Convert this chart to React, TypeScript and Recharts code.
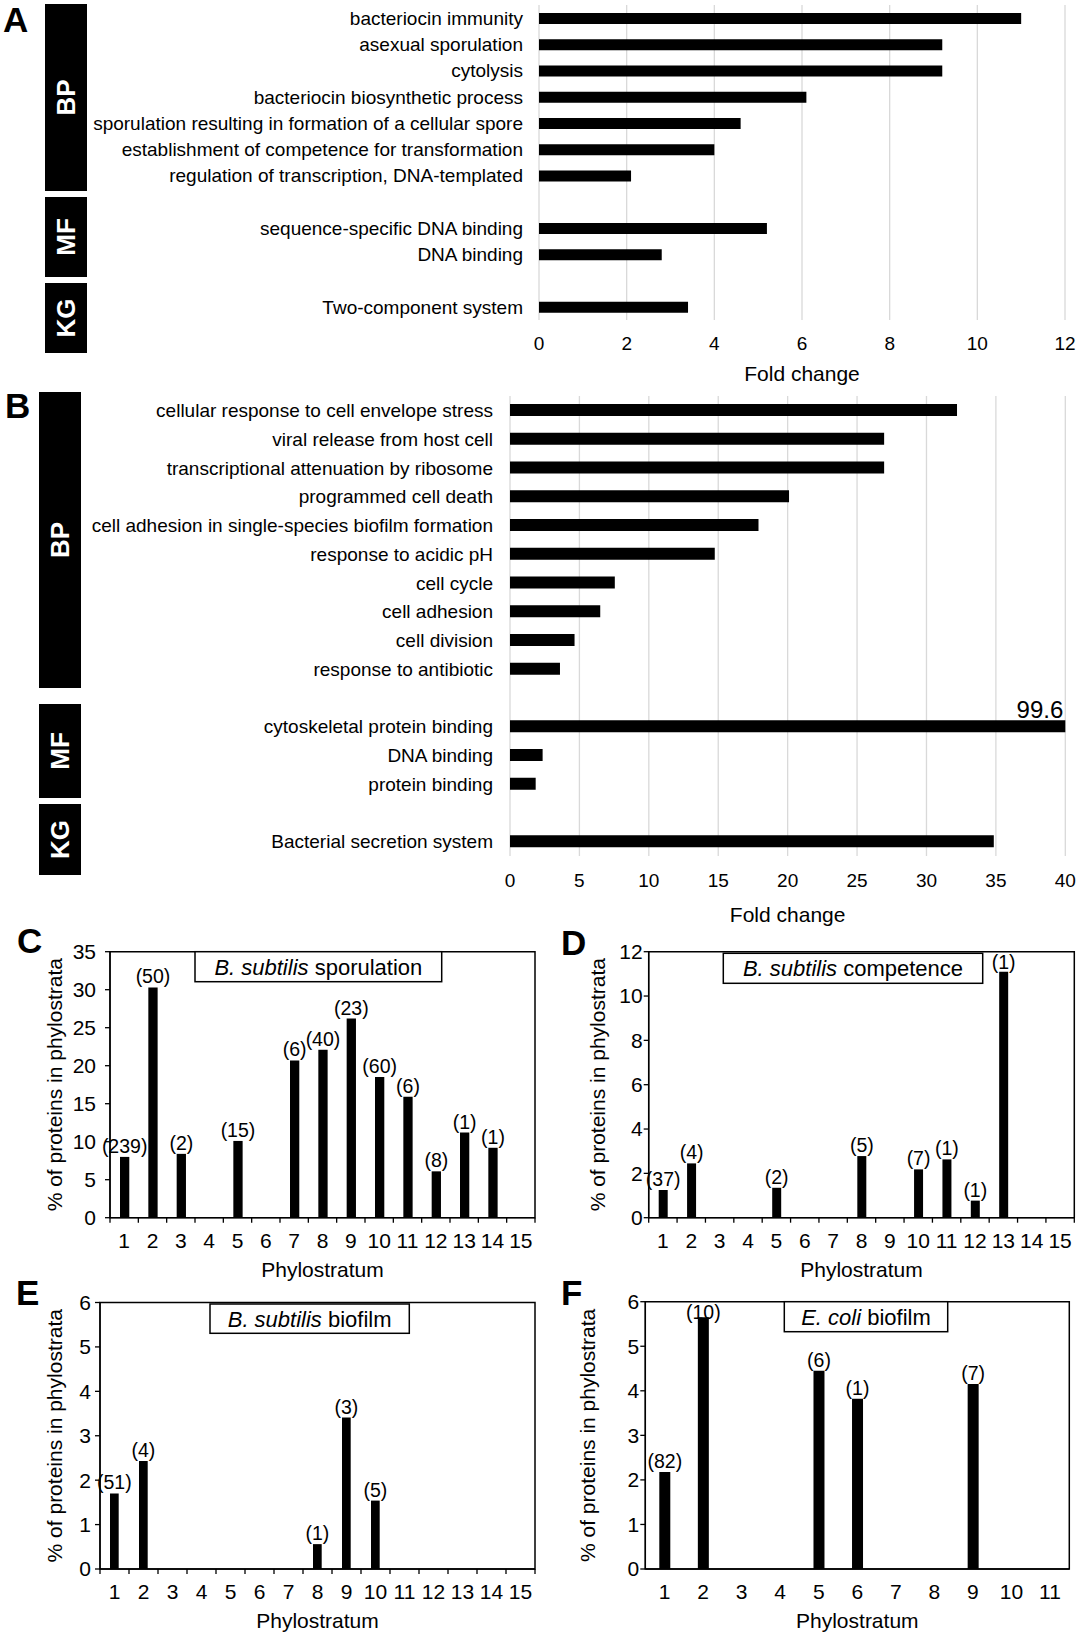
import React from 'react';
import { BarChart, Bar, XAxis, YAxis, CartesianGrid, LabelList, ReferenceArea } from 'recharts';

const FONT = '"Liberation Sans", Arial, Helvetica, sans-serif';
const GRID = '#d9d9d9';

// ---- panel A: fold change of enriched terms (blank strings = spacer rows)
const aTerms = [
  'bacteriocin immunity',
  'asexual sporulation',
  'cytolysis',
  'bacteriocin biosynthetic process',
  'sporulation resulting in formation of a cellular spore',
  'establishment of competence for transformation',
  'regulation of transcription, DNA-templated',
  '',
  'sequence-specific DNA binding',
  'DNA binding',
  '',
  'Two-component system',
];
const aFold = [11.0, 9.2, 9.2, 6.1, 4.6, 4.0, 2.1, null, 5.2, 2.8, null, 3.4];
const aTicks = [0, 2, 4, 6, 8, 10, 12];

// ---- panel B
const bTerms = [
  'cellular response to cell envelope stress',
  'viral release from host cell',
  'transcriptional attenuation by ribosome',
  'programmed cell death',
  'cell adhesion in single-species biofilm formation',
  'response to acidic pH',
  'cell cycle',
  'cell adhesion',
  'cell division',
  'response to antibiotic',
  '',
  'cytoskeletal protein binding',
  'DNA binding',
  'protein binding',
  '',
  'Bacterial secretion system',
];
const bFold = [32.2, 26.95, 26.95, 20.1, 17.9, 14.75, 7.55, 6.5, 4.65, 3.6, null, 99.6, 2.35, 1.85, null, 34.85];
const bTicks = [0, 5, 10, 15, 20, 25, 30, 35, 40];
const bMax = 40;

// ---- panels C-F: % of proteins per phylostratum, (n) = protein count
const phylo15 = ['1', '2', '3', '4', '5', '6', '7', '8', '9', '10', '11', '12', '13', '14', '15'];
const phylo11 = ['1', '2', '3', '4', '5', '6', '7', '8', '9', '10', '11'];

const cPct = [8.0, 30.3, 8.4, null, 10.1, null, 20.7, 22.1, 26.2, 18.5, 15.9, 6.1, 11.2, 9.2, null];
const cCounts = [239, 50, 2, null, 15, null, 6, 40, 23, 60, 6, 8, 1, 1, null];
const cTicks = [0, 5, 10, 15, 20, 25, 30, 35];

const dPct = [1.25, 2.45, null, null, 1.35, null, null, 2.78, null, 2.18, 2.63, 0.77, 11.1, null, null];
const dCounts = [37, 4, null, null, 2, null, null, 5, null, 7, 1, 1, 1, null, null];
const dTicks = [0, 2, 4, 6, 8, 10, 12];

const ePct = [1.7, 2.43, null, null, null, null, null, 0.56, 3.41, 1.54, null, null, null, null, null];
const eCounts = [51, 4, null, null, null, null, null, 1, 3, 5, null, null, null, null, null];
const eTicks = [0, 1, 2, 3, 4, 5, 6];

const fPct = [2.18, 5.65, null, null, 4.45, 3.82, null, null, 4.15, null, null];
const fCounts = [82, 10, null, null, 6, 1, null, null, 7, null, null];
const fTicks = [0, 1, 2, 3, 4, 5, 6];

const rowsA = aTerms.map((term, i) => ({ id: i, term, fold: aFold[i] }));
const rowsB = bTerms.map((term, i) => ({ id: i, term, fold: bFold[i] }));

const phyloRows = (cats: string[], pct: (number | null)[], counts: (number | null)[]) =>
  cats.map((ps, i) => ({ ps, pct: pct[i], tag: counts[i] == null ? undefined : `(${counts[i]})` }));

const X_TICK_MARGIN = 15.1;
const PHYLO_TICK_FONT = 21;

const PhyloTick = (props: any) => {
  const { x, y, payload, index, visibleTicksCount, edgeTicks, fallbackHalf, count } = props;
  const half = typeof payload?.offset === 'number' && payload.offset > 0 ? payload.offset : fallbackHalf;
  const axisY = y - X_TICK_MARGIN;
  const last = (visibleTicksCount ?? count) - 1;
  return (
    <g>
      {edgeTicks && <line x1={x - half} x2={x - half} y1={axisY} y2={axisY + 5} stroke="#000" strokeWidth={1.3} />}
      {edgeTicks && index === last && (
        <line x1={x + half} x2={x + half} y1={axisY} y2={axisY + 5} stroke="#000" strokeWidth={1.3} />
      )}
      <text x={x} y={y} dy="0.71em" textAnchor="middle" fontSize={PHYLO_TICK_FONT} fill="#000" fontFamily={FONT}>
        {payload.value}
      </text>
    </g>
  );
};

// count label above a bar, kept inside the frame like the spreadsheet does
const TagLabel = (props: any) => {
  const { value, plotTop } = props;
  if (value == null) return null;
  const vb = props.viewBox ?? props;
  const base = Math.max(vb.y - 4, plotTop + 17);
  return (
    <text x={vb.x + vb.width / 2} y={base} textAnchor="middle" fontSize={19.5} fill="#000" fontFamily={FONT}>
      {value}
    </text>
  );
};

type PhyloProps = {
  left: number;
  top: number;
  width: number;
  height: number;
  margin: { top: number; right: number; bottom: number; left: number };
  yAxisWidth: number;
  titleOffset: number;
  yTickGap: number;
  cats: string[];
  pct: (number | null)[];
  counts: (number | null)[];
  yTicks: number[];
  barSize: number;
  edgeTicks: boolean;
};

const PhyloPanel = (p: PhyloProps) => {
  const data = phyloRows(p.cats, p.pct, p.counts);
  const yMax = p.yTicks[p.yTicks.length - 1];
  const plotW = p.width - p.margin.left - p.margin.right - p.yAxisWidth;
  const half = plotW / p.cats.length / 2;
  return (
    <div style={{ position: 'absolute', left: p.left, top: p.top }}>
      <BarChart width={p.width} height={p.height} data={data} margin={p.margin}>
        <XAxis
          dataKey="ps"
          interval={0}
          height={59}
          tickLine={false}
          tickSize={0}
          tickMargin={X_TICK_MARGIN}
          axisLine={{ stroke: '#000', strokeWidth: 1.3 }}
          tick={(tp: any) => (
            <PhyloTick {...tp} edgeTicks={p.edgeTicks} fallbackHalf={half} count={p.cats.length} />
          )}
          label={{ value: 'Phylostratum', position: 'insideBottom', offset: 0, fontSize: 21, fill: '#000', fontFamily: FONT }}
        />
        <YAxis
          type="number"
          domain={[0, yMax]}
          ticks={p.yTicks}
          interval={0}
          width={p.yAxisWidth}
          tickSize={5}
          tickMargin={p.yTickGap}
          axisLine={{ stroke: '#000', strokeWidth: 1.3 }}
          tickLine={{ stroke: '#000', strokeWidth: 1.3 }}
          tick={{ fontSize: PHYLO_TICK_FONT, fill: '#000', fontFamily: FONT }}
          label={{
            value: '% of proteins in phylostrata',
            angle: -90,
            position: 'insideLeft',
            offset: p.titleOffset,
            fontSize: 21,
            fill: '#000',
            fontFamily: FONT,
            style: { textAnchor: 'middle' },
          }}
        />
        <Bar dataKey="pct" fill="#000" barSize={p.barSize} isAnimationActive={false}>
          <LabelList dataKey="tag" content={(lp: any) => <TagLabel {...lp} plotTop={p.margin.top} />} />
        </Bar>
        <ReferenceArea y1={0} y2={yMax} fill="none" stroke="#000" strokeWidth={1.5} ifOverflow="visible" />
      </BarChart>
    </div>
  );
};

const B_WIDTH = 1081;
const B_MARGIN = { top: 10, right: 15.7, bottom: 14, left: 0 };

const OverflowLabel = (props: any) => {
  const vb = props.viewBox ?? props;
  if (props.value == null || props.value <= bMax) return null;
  return (
    <text
      x={B_WIDTH - B_MARGIN.right - 2}
      y={vb.y - 2}
      textAnchor="end"
      fontSize={24}
      fill="#000"
      fontFamily={FONT}
    >
      {props.value}
    </text>
  );
};

const CatBox = ({ x, y, w, h, label }: { x: number; y: number; w: number; h: number; label: string }) => {
  const cx = x + w / 2;
  const cy = y + h / 2;
  return (
    <g>
      <rect x={x} y={y} width={w} height={h} fill="#000" />
      <text
        x={cx}
        y={cy}
        transform={`rotate(-90 ${cx} ${cy})`}
        textAnchor="middle"
        dominantBaseline="central"
        fill="#fff"
        fontWeight="bold"
        fontSize={26}
        fontFamily={FONT}
      >
        {label}
      </text>
    </g>
  );
};

const KeyBox = ({ x, y, w, h, species, rest }: { x: number; y: number; w: number; h: number; species: string; rest: string }) => (
  <g>
    <rect x={x} y={y} width={w} height={h} fill="#fff" stroke="#000" strokeWidth={1.5} />
    <text x={x + w / 2} y={y + h / 2 + 7.9} textAnchor="middle" fontSize={22} fill="#000" fontFamily={FONT}>
      <tspan fontStyle="italic">{species}</tspan>
      <tspan>{' ' + rest}</tspan>
    </text>
  </g>
);

const Letter = ({ x, y, t }: { x: number; y: number; t: string }) => (
  <text x={x} y={y} fontSize={35} fontWeight="bold" fill="#000" fontFamily={FONT}>
    {t}
  </text>
);

export default function App() {
  return (
    <div style={{ position: 'absolute', left: 0, top: 0, width: 1081, height: 1637, background: '#fff', fontFamily: FONT }}>
      {/* A */}
      <div style={{ position: 'absolute', left: 0, top: 0 }}>
        <BarChart layout="vertical" width={1081} height={386} data={rowsA} margin={{ top: 5, right: 16, bottom: 5, left: 0 }}>
          <CartesianGrid horizontal={false} stroke={GRID} strokeWidth={1.3} />
          <XAxis
            type="number"
            domain={[0, 12]}
            ticks={aTicks}
            interval={0}
            axisLine={false}
            tickLine={false}
            tickSize={6}
            tickMargin={10.5}
            height={61}
            tick={{ fontSize: 19, fill: '#000', fontFamily: FONT }}
            label={{ value: 'Fold change', position: 'insideBottom', offset: 0, fontSize: 21, fill: '#000', fontFamily: FONT }}
          />
          <YAxis
            type="category"
            dataKey="id"
            width={539}
            interval={0}
            axisLine={false}
            tickLine={false}
            tickSize={6}
            tickMargin={10}
            tickFormatter={(v: number) => aTerms[v]}
            tick={{ fontSize: 19, fill: '#000', fontFamily: FONT }}
          />
          <Bar dataKey="fold" fill="#000" barSize={11} isAnimationActive={false} />
        </BarChart>
      </div>

      {/* B */}
      <div style={{ position: 'absolute', left: 0, top: 386 }}>
        <BarChart layout="vertical" width={B_WIDTH} height={554} data={rowsB} margin={B_MARGIN}>
          <CartesianGrid horizontal={false} stroke={GRID} strokeWidth={1.3} />
          <XAxis
            type="number"
            domain={[0, bMax]}
            allowDataOverflow
            ticks={bTicks}
            interval={0}
            axisLine={false}
            tickLine={false}
            tickSize={6}
            tickMargin={11.2}
            height={70}
            tick={{ fontSize: 19, fill: '#000', fontFamily: FONT }}
            label={{ value: 'Fold change', position: 'insideBottom', offset: 4.5, fontSize: 21, fill: '#000', fontFamily: FONT }}
          />
          <YAxis
            type="category"
            dataKey="id"
            width={510}
            interval={0}
            axisLine={false}
            tickLine={false}
            tickSize={6}
            tickMargin={11}
            tickFormatter={(v: number) => bTerms[v]}
            tick={{ fontSize: 19, fill: '#000', fontFamily: FONT }}
          />
          <Bar dataKey="fold" fill="#000" barSize={12} isAnimationActive={false}>
            <LabelList dataKey="fold" content={(lp: any) => <OverflowLabel {...lp} />} />
          </Bar>
        </BarChart>
      </div>

      <PhyloPanel
        left={0} top={930} width={560} height={360}
        margin={{ top: 21.7, right: 25, bottom: 13.3, left: 0 }}
        yAxisWidth={110} titleOffset={55} yTickGap={9}
        cats={phylo15} pct={cPct} counts={cCounts} yTicks={cTicks} barSize={9.3} edgeTicks
      />
      <PhyloPanel
        left={560} top={930} width={521} height={360}
        margin={{ top: 21.7, right: 6.7, bottom: 13.3, left: 0 }}
        yAxisWidth={88.7} titleOffset={37.7} yTickGap={1}
        cats={phylo15} pct={dPct} counts={dCounts} yTicks={dTicks} barSize={9} edgeTicks
      />
      <PhyloPanel
        left={0} top={1280} width={560} height={357}
        margin={{ top: 22.5, right: 25, bottom: 9, left: 0 }}
        yAxisWidth={100} titleOffset={55} yTickGap={4}
        cats={phylo15} pct={ePct} counts={eCounts} yTicks={eTicks} barSize={8.7} edgeTicks
      />
      <PhyloPanel
        left={560} top={1280} width={521} height={357}
        margin={{ top: 21.7, right: 11.7, bottom: 9, left: 0 }}
        yAxisWidth={85.3} titleOffset={27.7} yTickGap={1}
        cats={phylo11} pct={fPct} counts={fCounts} yTicks={fTicks} barSize={11} edgeTicks={false}
      />

      <svg width={1081} height={1637} style={{ position: 'absolute', left: 0, top: 0, pointerEvents: 'none' }}>
        <Letter x={3} y={32} t="A" />
        <Letter x={5} y={418} t="B" />
        <Letter x={17} y={953} t="C" />
        <Letter x={561} y={955} t="D" />
        <Letter x={16} y={1305} t="E" />
        <Letter x={561} y={1305} t="F" />

        <CatBox x={45} y={4} w={42} h={187} label="BP" />
        <CatBox x={45} y={197} w={42} h={80} label="MF" />
        <CatBox x={45} y={283} w={42} h={70} label="KG" />

        <CatBox x={39} y={392} w={42} h={296} label="BP" />
        <CatBox x={39} y={704} w={42} h={94} label="MF" />
        <CatBox x={39} y={804} w={42} h={71} label="KG" />

        <KeyBox x={195} y={951.7} w={246.7} h={30} species="B. subtilis" rest="sporulation" />
        <KeyBox x={723.3} y={953.3} w={259.4} h={30} species="B. subtilis" rest="competence" />
        <KeyBox x={210} y={1304} w={199.3} h={29.3} species="B. subtilis" rest="biofilm" />
        <KeyBox x={784.3} y={1301.7} w={163.4} h={30} species="E. coli" rest="biofilm" />
      </svg>
    </div>
  );
}
